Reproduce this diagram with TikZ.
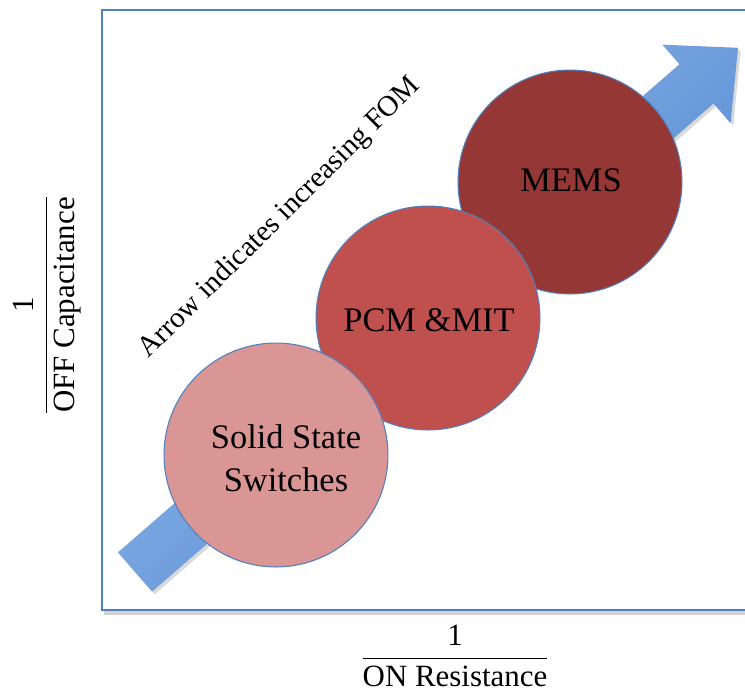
\documentclass[tikz,border=0pt]{standalone}
\usepackage{amsmath}
\usepackage{fontspec}
\setmainfont{Liberation Serif}
\definecolor{boxBlue}{RGB}{79, 129, 189}
\definecolor{arrowLight}{RGB}{150, 190, 240}
\definecolor{arrowDark}{RGB}{74, 128, 202}
\definecolor{ssPink}{RGB}{217, 150, 148}
\definecolor{pcmRed}{RGB}{192, 80, 77}
\definecolor{memsRed}{RGB}{149, 55, 53}
\usetikzlibrary{positioning, shadows}

\begin{document}
\begin{tikzpicture}[
    x=0.02cm, y=-0.02cm,
    bubble/.style={circle, draw=boxBlue, line width=0.6pt, minimum size=4.48cm,
                   inner sep=0pt},
    bubbletext/.style={align=center, font=\fontsize{19.6}{24.4}\selectfont},
    axislabel/.style={font=\fontsize{17.6}{21}\selectfont},
  ]
    \clip (0,0) rectangle (745,691);

    % Frame
    \draw[black!18, line width=2pt] (104,613) -- (760,613);
    \draw[boxBlue, line width=1.2pt] (760,10) -- (102,10) -- (102,610) -- (760,610);

    % FOM arrow
    \begin{scope}[shift={(135,572)}, rotate=41]
      \shade[top color=arrowLight, bottom color=arrowDark, shading angle=45,
             drop shadow={opacity=0.3, shadow xshift=1.5pt, shadow yshift=-1.5pt}]
        (0,26) -- (744,26) -- (744,52) -- (799,0) -- (744,-52) -- (744,-26)
        -- (0,-26) -- cycle;
    \end{scope}
    \node[font=\fontsize{16.6}{19}\selectfont, rotate=45] (FOM_T) at (280,218)
         {Arrow indicates increasing FOM};

    % Technology bubbles
    \node[bubble, fill=memsRed] (MEMS) at (570,182) {};
    \node[bubble, fill=pcmRed] (PCM) at (428,318) {};
    \node[bubble, fill=ssPink] (SSS) at (276,455) {};
    \node[bubbletext] (MEMS_T) at (571,180) {MEMS};
    \node[bubbletext] (PCM_T) at (429,320) {PCM \&MIT};
    \node[bubbletext] (SSS_T) at (286,458) {Solid State\\Switches};

    % Axes
    \node[axislabel] (XLAB) at (455,656) {$\dfrac{\text{1}}{\text{ON Resistance}}$};
    \node[axislabel, rotate=90] (YLAB) at (47,305)
         {$\dfrac{\text{1}}{\text{OFF Capacitance}}$};
  \end{tikzpicture}
\end{document}
